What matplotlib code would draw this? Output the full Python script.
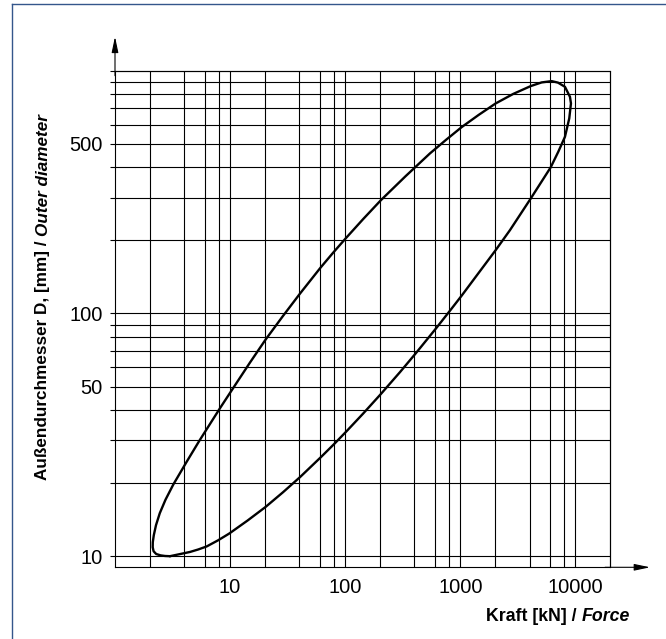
import matplotlib
matplotlib.use("Agg")
import matplotlib.pyplot as plt
from matplotlib.lines import Line2D
from matplotlib.ticker import NullLocator

# ---- data (closed loop: lower branch rightwards, upper branch back) ----
force_kn = [3.004, 4.483, 5.293, 6.262, 7.850, 9.84, 14.17, 20.39, 28.82, 40.72, 61.63, 81.53,
            103.0, 142.8, 203.4, 299.3, 412.2, 615.0, 825.1, 1028.5, 1483.5, 2030.5, 2703,
            4090, 6101, 7104, 8121, 8851, 9159, 8978, 8121, 7061, 6224, 5096, 4090, 2887,
            2030.5, 1445, 1028.5, 749.0, 545.5, 334.2, 204.6, 143.8, 101.0, 78.65, 61.27,
            40.48, 28.73, 20.39, 14.85, 10.81, 8.173, 5.401, 4.164, 3.211, 2.747, 2.450,
            2.271, 2.173, 2.130, 2.126, 2.164, 2.280, 2.485, 2.720, 3.004]
diameter_mm = [10.0, 10.41, 10.66, 10.97, 11.62, 12.40, 14.02, 15.97, 18.34, 21.22, 25.61, 29.21,
               32.75, 38.62, 46.47, 57.31, 68.67, 86.73, 103.5, 118.4, 149.4, 182.3, 220.4,
               297.2, 399.6, 463.4, 534.1, 636.0, 733.1, 780.4, 858.3, 893.1, 905.9, 894.8,
               864.1, 802.4, 733.1, 657.5, 585.6, 518.1, 456.4, 367.3, 293.0, 245.2, 203.8,
               178.0, 154.7, 120.7, 97.47, 78.16, 62.65, 49.85, 40.72, 29.87, 24.35, 19.74,
               17.09, 15.04, 13.42, 12.20, 11.42, 10.89, 10.48, 10.21, 10.08, 10.02, 10.0]

x_grid = [2, 4, 6, 8, 10, 20, 40, 60, 80, 100, 200, 400, 600, 800, 1000,
          2000, 4000, 6000, 8000, 10000, 20000]
y_grid = [10, 20, 30, 40, 50, 60, 70, 80, 90, 100, 200, 300, 400, 500, 600,
          700, 800, 900, 1000]
x_ticks = [10, 100, 1000, 10000]
x_tick_labels = ["10", "100", "1000", "10000"]
y_labeled = [10, 50, 100, 500]

x_range = (1, 20000)
y_range = (9, 1000)

plt.rcParams['font.family'] = ['Liberation Sans', 'DejaVu Sans']

W, H = 666, 639
fig = plt.figure(figsize=(W / 100, H / 100), dpi=100)
ax = fig.add_axes([115 / W, 1 - 567.3 / H, (610 - 115) / W, (567.3 - 70.7) / H])
ax.set_xscale('log')
ax.set_yscale('log')
ax.set_xlim(*x_range)
ax.set_ylim(*y_range)

lw_grid = 0.8
ax.vlines(x_grid, y_range[0], y_range[1], colors='black', linewidth=lw_grid, clip_on=False, zorder=1)
ax.hlines(y_grid, x_range[0], x_range[1], colors='black', linewidth=lw_grid, clip_on=False, zorder=1)

ax.plot(force_kn, diameter_mm, color='black', linewidth=1.7, solid_joinstyle='round',
        solid_capstyle='round', zorder=3)

for s in ax.spines.values():
    s.set_linewidth(lw_grid)
    s.set_color('black')

ax.set_xticks(x_ticks)
ax.set_xticklabels(x_tick_labels)
ax.xaxis.set_minor_locator(NullLocator())
ax.set_yticks(y_grid)
ax.set_yticklabels([str(v) if v in y_labeled else '' for v in y_grid])
ax.yaxis.set_minor_locator(NullLocator())
ax.tick_params(axis='x', length=0, pad=8, labelsize=14.5)
ax.tick_params(axis='y', length=3.5, width=lw_grid, pad=5.5, labelsize=14.5, direction='out')

# axis arrows
arrow = dict(arrowstyle='-|>,head_length=0.95,head_width=0.2', color='black', lw=lw_grid,
             shrinkA=0, shrinkB=0)
ax.annotate('', xy=(1.081, 0), xytext=(0.99, 0), xycoords='axes fraction',
            arrowprops=arrow, annotation_clip=False)
ax.annotate('', xy=(0, 1.0685), xytext=(0, 0.99), xycoords='axes fraction',
            arrowprops=arrow, annotation_clip=False)

# x label
fs_x = 12.8
t_force = fig.text(630 / W, 1 - 616.7 / H, "Force", fontsize=fs_x, fontweight='bold',
                   fontstyle='italic', ha='right', va='center')
ax.annotate("Kraft [kN] /", xy=(0, 0.5), xycoords=t_force, xytext=(-3.6, 0),
            textcoords='offset points', ha='right', va='center', fontsize=fs_x,
            fontweight='bold')

# y label
fs_y = 12.3
t_de = fig.text(43 / W, 1 - 480 / H, "Außendurchmesser D, [mm] /", fontsize=fs_y,
                fontweight='bold', rotation=90, rotation_mode='anchor', ha='left', va='center')
ax.annotate("Outer diameter", xy=(0.5, 1.0), xycoords=t_de, xytext=(0, 3.5),
            textcoords='offset points', ha='left', va='center', rotation=90,
            rotation_mode='anchor', fontsize=fs_y, fontweight='bold', fontstyle='italic')

# page border (top and left)
bc = '#34568b'
fig.add_artist(Line2D([11.5 / W, 11.5 / W], [0, 1 - 3.5 / H], color=bc, linewidth=1.0))
fig.add_artist(Line2D([11.5 / W, 1], [1 - 3.5 / H, 1 - 3.5 / H], color=bc, linewidth=1.0))

fig.savefig("out.png", dpi=100)
